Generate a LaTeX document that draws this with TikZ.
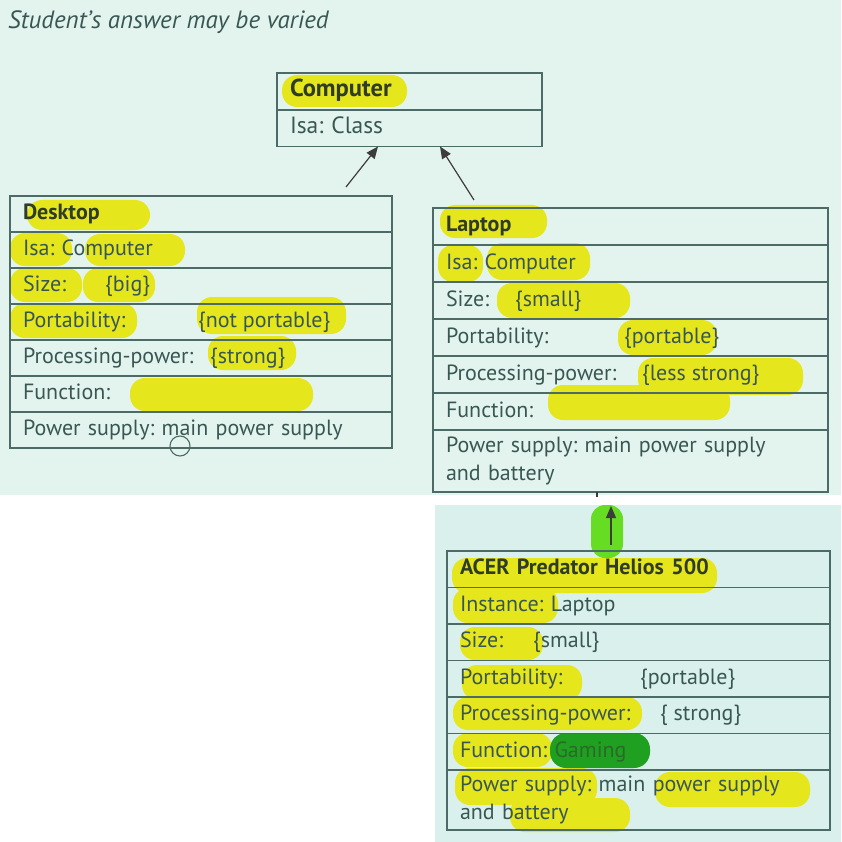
\documentclass[tikz,border=0pt]{standalone}
\usepackage{fontspec}
\setmainfont{PT Sans}
\usetikzlibrary{positioning,arrows.meta}
\definecolor{cBgTop}{HTML}{E3F4EF}
\definecolor{cBgPhoto}{HTML}{DAF0EC}
\definecolor{cLine}{HTML}{4C6A66}
\definecolor{cText}{HTML}{395752}
\definecolor{cTitle}{HTML}{2F3C28}
\definecolor{cHlYellow}{HTML}{E6E61C}
\definecolor{cHlGreen}{HTML}{66DD22}
\definecolor{cGaming}{HTML}{20A020}
\definecolor{cGamingText}{HTML}{2A6A2A}
\definecolor{cArrow}{HTML}{3C3C3C}
\newcommand{\rowfont}{\fontsize{22}{28.5}\selectfont}
\frenchspacing
\tikzset{
  cell/.style={draw=cLine, line width=1.3pt, anchor=north west, outer sep=0pt,
               inner xsep=13pt, inner ysep=0pt, text=cText, font=\rowfont,
               align=left, text width=#1, text height=16pt, text depth=5pt,
               minimum height=36.5pt},
  cell/.default=350pt,
  twoline/.style={text depth=33.5pt},
  title/.style={font=\rowfont\bfseries, text=cTitle},
  val/.style={anchor=base west, inner sep=0pt, text=cText, font=\rowfont},
  hl/.style={fill=cHlYellow, rounded corners=15pt},
  isa/.style={-{Triangle[length=12pt,width=10pt]}, line width=1.2pt, draw=cArrow},
}
\begin{document}
\begin{tikzpicture}[x=1pt, y=-1pt]
\useasboundingbox (0,0) rectangle (841,842);

% ---- photo backgrounds ----
\fill[white] (0,0) rectangle (841,842);
\fill[cBgTop] (0,0) rectangle (841,495);
\fill[cBgPhoto] (435,505) rectangle (841,842);

% ---- highlighter strokes ----
\foreach \xa/\ya/\xb/\yb in {282/75/407/107,
    27/200/150/230, 10/233/72/266, 85/234/185/266, 10/268/82/302, 83/268/155/302,
    10/303/137/338, 197/297/346/334, 208/336/296/370, 130/378/313/411,
    440/205/547/238, 438/245/483/282, 487/243/590/280, 497/283/630/318,
    618/320/717/355, 638/358/803/395, 548/385/730/420,
    452/558/717/593, 453/588/558/623, 460/627/543/660, 462/665/582/700,
    453/697/642/730, 453/733/552/767, 455/768/597/805, 655/772/810/807,
    510/798/630/832}
  \fill[hl] (\xa,\ya) rectangle (\xb,\yb);
\fill[fill=cGaming, rounded corners=16pt] (550,733) rectangle (650,768);
\fill[fill=cHlGreen, rounded corners=14pt] (591,505) -- (591,558) -- (623,558) -- (623,505) -- cycle;

\node[anchor=base west, inner sep=0pt, text=cText, font=\fontsize{25}{30}\selectfont\itshape]
  (note) at (8,29) {Student’s answer may be varied};

% ========== Computer ==========
\node[cell=239pt, minimum height=37pt, title, font=\fontsize{24.5}{30}\selectfont\bfseries] (cTitle) at (277,73) {Computer};
\node[cell=239pt, below=0pt of cTitle, font=\fontsize{23.5}{30}\selectfont] (cIsa) {Isa: Class};

% ========== Desktop ==========
\node[cell=356pt, minimum height=36pt, title] (dTitle) at (10,196) {Desktop};
\node[cell=356pt, minimum height=36pt, below=0pt of dTitle] (dIsa) {Isa: Computer};
\node[cell=356pt, minimum height=36pt, below=0pt of dIsa] (dSize) {Size:};
\node[cell=356pt, minimum height=36pt, below=0pt of dSize] (dPort) {Portability:};
\node[cell=356pt, minimum height=36pt, below=0pt of dPort] (dProc) {Processing-power:};
\node[cell=356pt, minimum height=36pt, below=0pt of dProc] (dFunc) {Function:};
\node[cell=356pt, minimum height=36pt, below=0pt of dFunc] (dPow) {Power supply: main power supply};
\node[val] (dSizeV) at ([xshift=95pt]dSize.base west) {\{big\}};
\node[val] (dPortV) at ([xshift=188pt]dPort.base west) {\{not portable\}};
\node[val] (dProcV) at ([xshift=200pt]dProc.base west) {\{strong\}};
\draw[cLine, line width=1.1pt] (180,446) circle (10pt);

% ========== Laptop ==========
\node[cell=369pt, minimum height=37pt, title] (lTitle) at (433,208) {Laptop};
\node[cell=369pt, minimum height=37pt, below=0pt of lTitle] (lIsa) {Isa: Computer};
\node[cell=369pt, minimum height=37pt, below=0pt of lIsa] (lSize) {Size:};
\node[cell=369pt, minimum height=37pt, below=0pt of lSize] (lPort) {Portability:};
\node[cell=369pt, minimum height=37pt, below=0pt of lPort] (lProc) {Processing-power:};
\node[cell=369pt, minimum height=37pt, below=0pt of lProc] (lFunc) {Function:};
\node[cell=369pt, minimum height=62pt, twoline, below=0pt of lFunc] (lPow)
  {Power supply: main power supply\\and battery};
\node[val] (lSizeV) at ([xshift=82pt]lSize.base west) {\{small\}};
\node[val] (lPortV) at ([xshift=191pt]lPort.base west) {\{portable\}};
\node[val] (lProcV) at ([xshift=209pt]lProc.base west) {\{less strong\}};

% ========== ACER instance ==========
\node[cell=357pt, title] (aTitle) at (447,551) {ACER Predator Helios 500};
\node[cell=357pt, below=0pt of aTitle] (aInst) {Instance: Laptop};
\node[cell=357pt, below=0pt of aInst] (aSize) {Size:};
\node[cell=357pt, below=0pt of aSize] (aPort) {Portability:};
\node[cell=357pt, below=0pt of aPort] (aProc) {Processing-power:};
\node[cell=357pt, below=0pt of aProc] (aFunc) {Function: \textcolor{cGamingText}{Gaming}};
\node[cell=357pt, minimum height=60pt, twoline, below=0pt of aFunc] (aPow)
  {Power supply: main power supply\\and battery};
\node[val] (aSizeV) at ([xshift=86pt]aSize.base west) {\{small\}};
\node[val] (aPortV) at ([xshift=193pt]aPort.base west) {\{portable\}};
\node[val] (aProcV) at ([xshift=213pt]aProc.base west) {\{ strong\}};

% ---- inheritance arrows ----
\coordinate (dTail) at (346,187);
\coordinate (lTail) at (474,200);
\coordinate (aHead) at (611,506);
\draw[isa] (dTail) -- ([xshift=101pt]cIsa.south west);
\draw[isa] (lTail) -- ([xshift=163pt]cIsa.south west);
\draw[isa] ([xshift=164pt, yshift=6pt]aTitle.north west) -- (aHead);
\draw[cArrow, line width=1.3pt] ([xshift=164pt]lPow.south west) -- ++(0,5);

\end{tikzpicture}
\end{document}
